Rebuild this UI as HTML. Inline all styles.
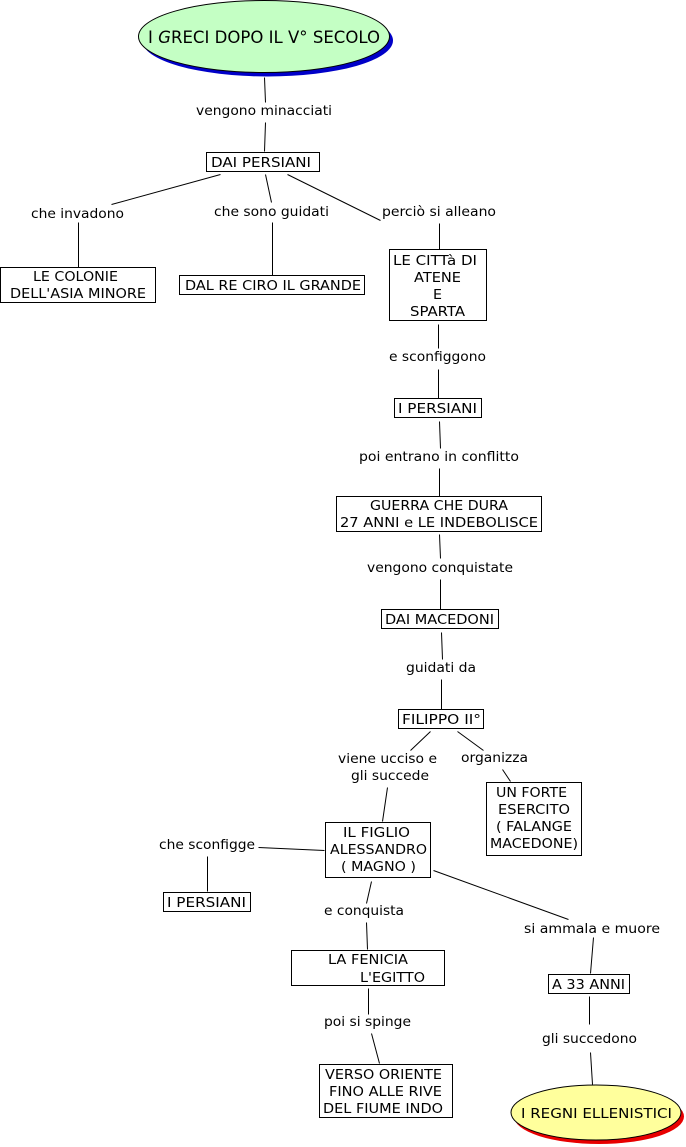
<!DOCTYPE html>
<html>
<head>
<meta charset="utf-8">
<style>
html,body{margin:0;padding:0;background:#fff;width:686px;height:1147px;overflow:hidden}
svg{display:block}
text{font-family:"DejaVu Sans","Liberation Sans",sans-serif;font-size:13.7px;fill:#000;white-space:pre}
.l{stroke:#000;stroke-width:1;fill:none}
.b{stroke:#000;stroke-width:1;fill:#fff}
</style>
</head>
<body>
<svg width="686" height="1147" viewBox="0 0 686 1147" xmlns="http://www.w3.org/2000/svg">
<g class="l" transform="translate(0.5,0.5)">
<path d="M264 77L265 102M265 122L264 151"/>
<path d="M220 174L111 204M265 174L271 202M287 174L380 220"/>
<path d="M78 222V267M272 222V275M439 223V249"/>
<path d="M438 324V348M438 369V398M439 421L440 448M439 468V496M439 534L440 558M440 579V609M441 632L442 659M441 679V709"/>
<path d="M430 731L410 750M457 731L483 750M502 769L510 781M387 787L382 821"/>
<path d="M258 847L324 850M207 856V891"/>
<path d="M371 881L366 903M366 922L367 949M368 988V1014M371 1033L379 1063"/>
<path d="M433 870L568 919M593 937L590 973M589 996V1024M590 1052L592 1084"/>
</g>

<ellipse cx="267.5" cy="40.5" rx="125.5" ry="36" fill="#0000c8"/>
<ellipse cx="264" cy="36.5" rx="125.5" ry="36" fill="#c4ffc4" stroke="#000"/>
<ellipse cx="599" cy="1116.5" rx="85" ry="27.5" fill="#e80000"/>
<ellipse cx="596" cy="1112.5" rx="85" ry="27.5" fill="#ffff9c" stroke="#000"/>

<rect class="b" x="206.5" y="152.5" width="113" height="19"/>
<rect class="b" x="0.5" y="267.5" width="155" height="35"/>
<rect class="b" x="179.5" y="275.5" width="185" height="19"/>
<rect class="b" x="389.5" y="249.5" width="97" height="71"/>
<rect class="b" x="394.5" y="398.5" width="87" height="19"/>
<rect class="b" x="336.5" y="496.5" width="205" height="35"/>
<rect class="b" x="381.5" y="609.5" width="117" height="19"/>
<rect class="b" x="398.5" y="709.5" width="85" height="19"/>
<rect class="b" x="486.5" y="782.5" width="95" height="73"/>
<rect class="b" x="325.5" y="822.5" width="105" height="55"/>
<rect class="b" x="163.5" y="892.5" width="87" height="19"/>
<rect class="b" x="291.5" y="950.5" width="153" height="35"/>
<rect class="b" x="319.5" y="1064.5" width="133" height="53"/>
<rect class="b" x="548.5" y="974.5" width="81" height="19"/>

<g>
<text x="148" y="43" textLength="232" lengthAdjust="spacingAndGlyphs" style="font-size:16.5px">I <tspan font-style="italic">G</tspan>RECI DOPO IL V° SECOLO</text>
<text x="521" y="1118" textLength="151" lengthAdjust="spacingAndGlyphs">I REGNI ELLENISTICI</text>
<text x="196" y="115" textLength="136" lengthAdjust="spacingAndGlyphs">vengono minacciati</text>
<text x="211" y="167" textLength="100" lengthAdjust="spacingAndGlyphs">DAI PERSIANI</text>
<text x="31" y="218" textLength="93" lengthAdjust="spacingAndGlyphs">che invadono</text>
<text x="214" y="216" textLength="115" lengthAdjust="spacingAndGlyphs">che sono guidati</text>
<text x="382" y="216" textLength="114" lengthAdjust="spacingAndGlyphs">perciò si alleano</text>
<text x="33" y="281" textLength="85" lengthAdjust="spacingAndGlyphs">LE COLONIE</text>
<text x="10" y="298" textLength="136" lengthAdjust="spacingAndGlyphs">DELL'ASIA MINORE</text>
<text x="185" y="290" textLength="176" lengthAdjust="spacingAndGlyphs">DAL RE CIRO IL GRANDE</text>
<text x="393" y="265" textLength="84" lengthAdjust="spacingAndGlyphs">LE CITTà DI</text>
<text x="414" y="282" textLength="47" lengthAdjust="spacingAndGlyphs">ATENE</text>
<text x="433" y="299" textLength="9" lengthAdjust="spacingAndGlyphs">E</text>
<text x="410" y="316" textLength="55" lengthAdjust="spacingAndGlyphs">SPARTA</text>
<text x="389" y="361" textLength="97" lengthAdjust="spacingAndGlyphs">e sconfiggono</text>
<text x="398" y="413" textLength="79" lengthAdjust="spacingAndGlyphs">I PERSIANI</text>
<text x="359" y="461" textLength="160" lengthAdjust="spacingAndGlyphs">poi entrano in conflitto</text>
<text x="370" y="510" textLength="138" lengthAdjust="spacingAndGlyphs">GUERRA CHE DURA</text>
<text x="340" y="527" textLength="198" lengthAdjust="spacingAndGlyphs">27 ANNI e LE INDEBOLISCE</text>
<text x="367" y="572" textLength="146" lengthAdjust="spacingAndGlyphs">vengono conquistate</text>
<text x="385" y="624" textLength="109" lengthAdjust="spacingAndGlyphs">DAI MACEDONI</text>
<text x="406" y="672" textLength="70" lengthAdjust="spacingAndGlyphs">guidati da</text>
<text x="402" y="724" textLength="79" lengthAdjust="spacingAndGlyphs">FILIPPO II°</text>
<text x="338" y="763" textLength="99" lengthAdjust="spacingAndGlyphs">viene ucciso e</text>
<text x="351" y="780" textLength="78" lengthAdjust="spacingAndGlyphs">gli succede</text>
<text x="461" y="762" textLength="67" lengthAdjust="spacingAndGlyphs">organizza</text>
<text x="496" y="797" textLength="71" lengthAdjust="spacingAndGlyphs">UN FORTE</text>
<text x="498" y="814" textLength="72" lengthAdjust="spacingAndGlyphs">ESERCITO</text>
<text x="496" y="831" textLength="76" lengthAdjust="spacingAndGlyphs">( FALANGE</text>
<text x="490" y="848" textLength="88" lengthAdjust="spacingAndGlyphs">MACEDONE)</text>
<text x="343" y="837" textLength="67" lengthAdjust="spacingAndGlyphs">IL FIGLIO</text>
<text x="330" y="854" textLength="97" lengthAdjust="spacingAndGlyphs">ALESSANDRO</text>
<text x="341" y="871" textLength="75" lengthAdjust="spacingAndGlyphs">( MAGNO )</text>
<text x="159" y="849" textLength="96" lengthAdjust="spacingAndGlyphs">che sconfigge</text>
<text x="167" y="907" textLength="79" lengthAdjust="spacingAndGlyphs">I PERSIANI</text>
<text x="324" y="915" textLength="80" lengthAdjust="spacingAndGlyphs">e conquista</text>
<text x="328" y="964" textLength="80" lengthAdjust="spacingAndGlyphs">LA FENICIA</text>
<text x="360" y="982" textLength="65" lengthAdjust="spacingAndGlyphs">L'EGITTO</text>
<text x="324" y="1026" textLength="87" lengthAdjust="spacingAndGlyphs">poi si spinge</text>
<text x="325" y="1079" textLength="117" lengthAdjust="spacingAndGlyphs">VERSO ORIENTE</text>
<text x="329" y="1096" textLength="113" lengthAdjust="spacingAndGlyphs">FINO ALLE RIVE</text>
<text x="323" y="1113" textLength="120" lengthAdjust="spacingAndGlyphs">DEL FIUME INDO</text>
<text x="524" y="933" textLength="136" lengthAdjust="spacingAndGlyphs">si ammala e muore</text>
<text x="552" y="989" textLength="73" lengthAdjust="spacingAndGlyphs">A 33 ANNI</text>
<text x="542" y="1043" textLength="95" lengthAdjust="spacingAndGlyphs">gli succedono</text>
</g>
</svg>
</body>
</html>
